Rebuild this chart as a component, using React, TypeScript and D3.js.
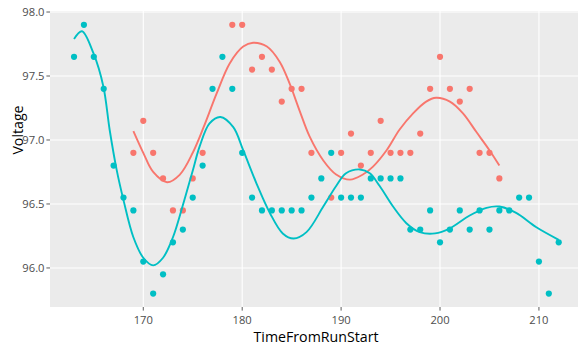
import React from 'react'
import * as d3 from 'd3'

// observed points (TimeFromRunStart, Voltage)
const tealTimes = [163, 164, 165, 166, 167, 168, 169, 170, 171, 172, 173, 174, 175, 176, 177, 178, 179, 180, 181, 182, 183, 184, 185, 186, 187, 188, 189, 190, 191, 192, 193, 194, 195, 196, 197, 198, 199, 200, 201, 202, 203, 204, 205, 206, 207, 208, 209, 210, 211, 212]
const tealVolts = [97.65, 97.9, 97.65, 97.4, 96.8, 96.55, 96.45, 96.05, 95.8, 95.95, 96.2, 96.3, 96.55, 96.8, 97.4, 97.65, 97.4, 96.9, 96.55, 96.45, 96.45, 96.45, 96.45, 96.45, 96.55, 96.7, 96.9, 96.55, 96.55, 96.55, 96.7, 96.7, 96.7, 96.7, 96.3, 96.3, 96.45, 96.2, 96.3, 96.45, 96.3, 96.45, 96.3, 96.45, 96.45, 96.55, 96.55, 96.05, 95.8, 96.2]

const redTimes = [169, 170, 171, 172, 173, 174, 175, 176, 179, 180, 181, 182, 183, 184, 185, 186, 187, 189, 190, 191, 192, 193, 194, 195, 196, 197, 198, 199, 200, 201, 202, 203, 204, 205, 206]
const redVolts = [96.9, 97.15, 96.9, 96.7, 96.45, 96.45, 96.7, 96.9, 97.9, 97.9, 97.55, 97.65, 97.55, 97.3, 97.4, 97.4, 96.9, 96.55, 96.9, 97.05, 96.8, 96.9, 97.15, 96.9, 96.9, 96.9, 97.05, 97.4, 97.65, 97.4, 97.3, 97.4, 96.9, 96.9, 96.7]

// smoothed curves
const tealSmoothT = [163, 163.8, 164.95, 165.96, 166.6, 167.3, 168, 169, 170, 171, 172, 173, 174, 175, 175.7, 176.7, 177.8, 179.1, 180.1, 181.45, 182.8, 184.1, 185.2, 186.5, 188.2, 189.5, 190.5, 191.9, 192.9, 193.9, 195.25, 196.6, 197.95, 199.5, 201, 203, 204.7, 206, 207.7, 209.7, 212]
const tealSmoothV = [97.79, 97.85, 97.68, 97.42, 97.08, 96.77, 96.53, 96.24, 96.08, 96.02, 96.08, 96.24, 96.49, 96.76, 96.95, 97.13, 97.18, 97.1, 96.92, 96.66, 96.43, 96.27, 96.23, 96.28, 96.48, 96.64, 96.74, 96.77, 96.74, 96.64, 96.48, 96.35, 96.28, 96.27, 96.31, 96.41, 96.47, 96.48, 96.43, 96.32, 96.22]

const redSmoothT = [169, 170, 171, 172.4, 173.7, 175, 176.1, 177.4, 178.75, 180.1, 181.1, 182.5, 183.8, 184.8, 185.8, 186.8, 188.2, 189.5, 190.9, 192.2, 193.2, 194.6, 195.9, 197.3, 198.6, 199.6, 201, 202.3, 203.7, 205, 206]
const redSmoothV = [97.07, 96.9, 96.75, 96.67, 96.73, 96.9, 97.1, 97.36, 97.6, 97.73, 97.76, 97.73, 97.61, 97.44, 97.23, 97.03, 96.84, 96.73, 96.69, 96.73, 96.79, 96.92, 97.08, 97.21, 97.3, 97.33, 97.3, 97.21, 97.06, 96.92, 96.8]

const xTicks = [170, 180, 190, 200, 210]
const yTicks = [96.0, 96.5, 97.0, 97.5, 98.0]

const TEAL = '#00BFC4'
const RED = '#F8766D'
const FONT = '"Open Sans", "DejaVu Sans", sans-serif'

const App = () => {
  const W = 578
  const H = 348
  const left = 50
  const right = 578
  const top = 11
  const bottom = 307

  const x = d3.scaleLinear().domain([160.57, 213.95]).range([left, right])
  const y = d3.scaleLinear().domain([95.695, 98.008]).range([bottom, top])

  const line = d3
    .line<[number, number]>()
    .x((d) => x(d[0]))
    .y((d) => y(d[1]))
    .curve(d3.curveCatmullRom.alpha(0.5))

  const tealCurve = line(tealSmoothT.map((t, i) => [t, tealSmoothV[i]]))
  const redCurve = line(redSmoothT.map((t, i) => [t, redSmoothV[i]]))

  return (
    <svg
      width={W}
      height={H}
      style={{ position: 'fixed', top: 0, left: 0, background: '#fff' }}
      fontFamily={FONT}
    >
      <rect x={left} y={top} width={right - left} height={bottom - top} fill="#EBEBEB" />
      {yTicks.map((v) => (
        <line key={'gy' + v} x1={left} x2={right} y1={y(v)} y2={y(v)} stroke="#fff" strokeWidth={1.1} />
      ))}
      {xTicks.map((v) => (
        <line key={'gx' + v} x1={x(v)} x2={x(v)} y1={top} y2={bottom} stroke="#fff" strokeWidth={1.1} />
      ))}

      {tealTimes.map((t, i) => (
        <circle key={'tp' + i} cx={x(t)} cy={y(tealVolts[i])} r={3.1} fill={TEAL} />
      ))}
      {redTimes.map((t, i) => (
        <circle key={'rp' + i} cx={x(t)} cy={y(redVolts[i])} r={3.1} fill={RED} />
      ))}

      <path d={redCurve || ''} fill="none" stroke={RED} strokeWidth={1.9} />
      <path d={tealCurve || ''} fill="none" stroke={TEAL} strokeWidth={1.9} />

      {yTicks.map((v) => (
        <g key={'ty' + v}>
          <line x1={left - 3.6} x2={left} y1={y(v)} y2={y(v)} stroke="#333" strokeWidth={0.8} />
          <text x={left - 5.5} y={y(v)} dy="0.35em" textAnchor="end" fontSize={11.2} fill="#4d4d4d">
            {v.toFixed(1)}
          </text>
        </g>
      ))}
      {xTicks.map((v) => (
        <g key={'tx' + v}>
          <line x1={x(v)} x2={x(v)} y1={bottom} y2={bottom + 3.6} stroke="#333" strokeWidth={0.8} />
          <text x={x(v)} y={bottom + 17} textAnchor="middle" fontSize={11.2} fill="#4d4d4d">
            {v}
          </text>
        </g>
      ))}

      <text x={316} y={342} textAnchor="middle" fontSize={14.2} fill="#000">
        TimeFromRunStart
      </text>
      <text transform="translate(23,130) rotate(-90)" textAnchor="middle" fontSize={14.2} fill="#000">
        Voltage
      </text>
    </svg>
  )
}

export default App
